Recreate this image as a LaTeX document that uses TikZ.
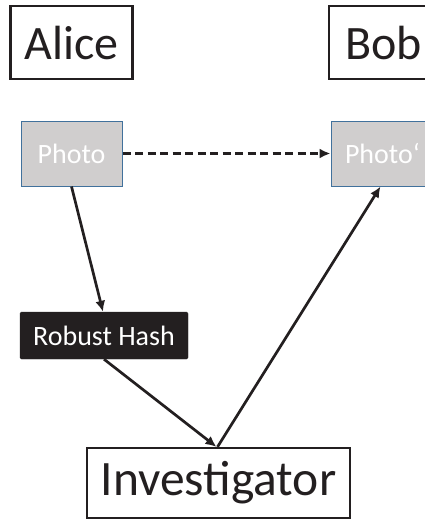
\documentclass[tikz,border=0pt]{standalone}
\usepackage{fontspec}
\setmainfont{Carlito}
\usetikzlibrary{arrows.meta}
\definecolor{ink}{HTML}{231F20}
\definecolor{photofill}{HTML}{D0CECE}
\definecolor{photoline}{HTML}{41719C}
\tikzset{
  actor/.style={draw=ink, line width=2.2pt, fill=white, text=ink, inner sep=0pt, font=\fontsize{48}{56}\selectfont},
  photobox/.style={draw=photoline, line width=1pt, fill=photofill, text=white, inner sep=0pt, minimum width=101pt, minimum height=65pt, font=\fontsize{28}{32}\selectfont},
  hashbox/.style={draw=ink, fill=ink, text=white, rounded corners=1.5pt, inner sep=0pt, minimum width=168pt, minimum height=47pt, font=\fontsize{28}{32}\selectfont},
  link/.style={draw=ink, line width=2.7pt, -{Latex[length=11pt,width=10pt]}},
  dlink/.style={link, line width=3pt, dash pattern=on 8pt off 4.5pt}
}
\begin{document}
\begin{tikzpicture}[x=1pt,y=-1pt]
\useasboundingbox (0,0) rectangle (425,520);
\clip (0,0) rectangle (425,520);
\node[actor, minimum width=122pt, minimum height=73pt] (alice) at (71.5,42.5) {Alice};
\node[actor, minimum width=103pt, minimum height=73pt, text width=95pt, align=left] (bob) at (380.5,42.5) {\hspace*{12pt}Bob};
\node[photobox] (photo) at (71.5,153.5) {Photo};
\node[photobox, text width=95pt, align=left] (photop) at (381.5,153.5) {\hspace*{11pt}Photo‘};
\node[hashbox] (hash) at (104,335.5) {Robust Hash};
\node[actor, minimum width=263pt, minimum height=70pt, font=\fontsize{49.5}{56}\selectfont] (inv) at (218.5,483) {Investigator};
\draw[dlink] (photo.east) -- (photop.west);
\draw[link] (photo.south) -- ([xshift=-1pt]hash.north);
\draw[link] (hash.south) -- ([xshift=-2pt]inv.north);
\draw[link] ([xshift=-1pt]inv.north) -- ([xshift=-1pt]photop.south);
\end{tikzpicture}
\end{document}
